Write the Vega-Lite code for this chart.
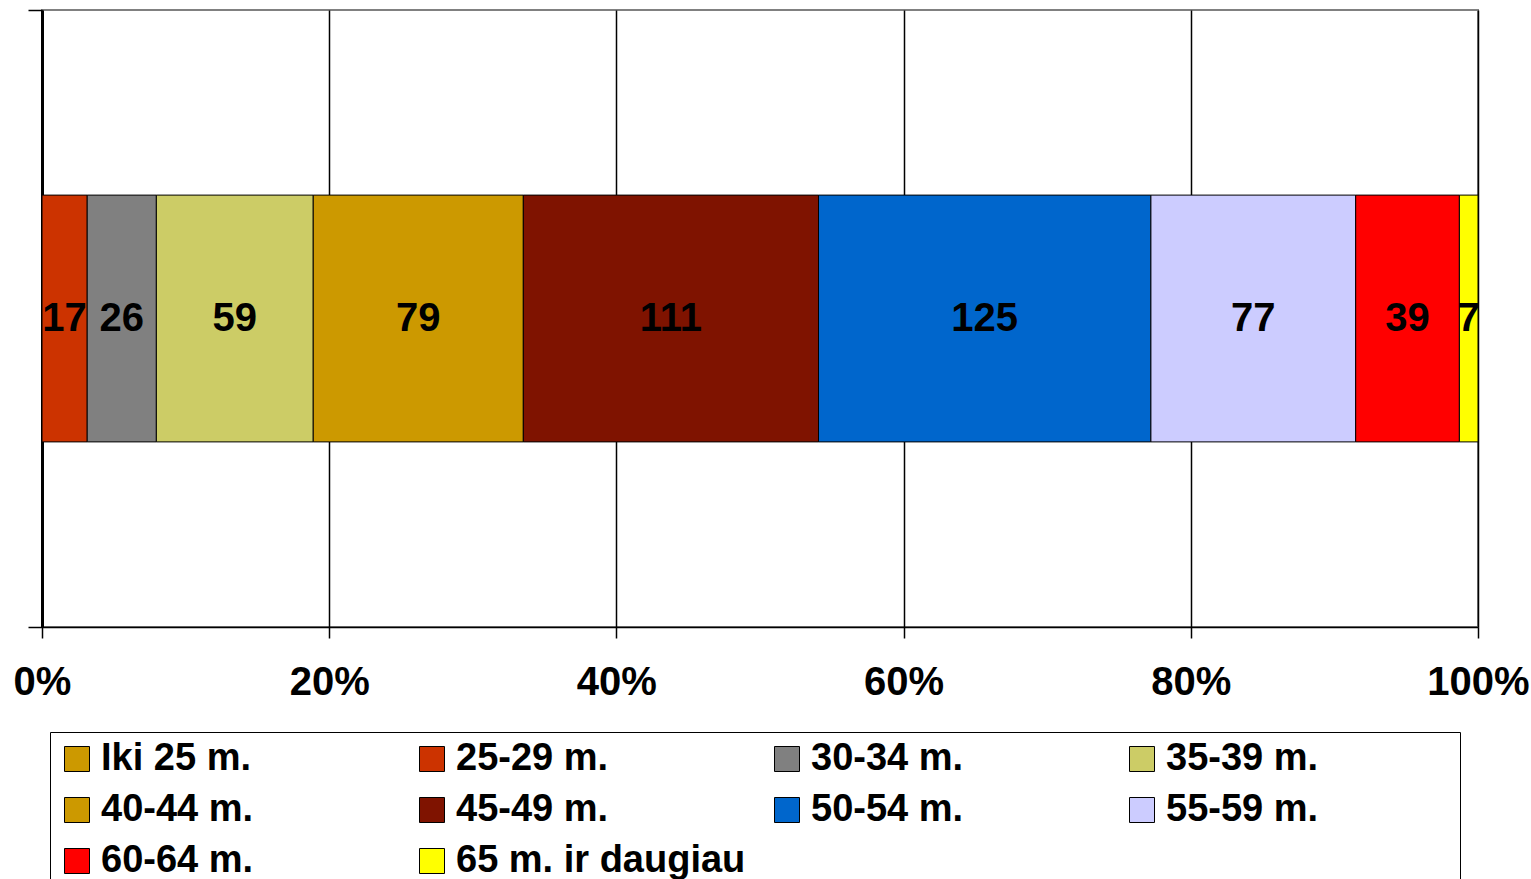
{
  "$schema": "https://vega.github.io/schema/vega-lite/v6.json",
  "width": 1436,
  "height": 617,
  "autosize": {"type": "none"},
  "padding": {"left": 42, "top": 10, "right": 53, "bottom": 252},
  "background": "white",
  "config": {
    "font": "Liberation Sans",
    "view": {"stroke": "#808080", "strokeWidth": 2}
  },
  "data": {
    "values": [
      {"group": "A", "category": "Iki 25 m.", "value": 0, "order": 0},
      {"group": "A", "category": "25-29 m.", "value": 17, "order": 1},
      {"group": "A", "category": "30-34 m.", "value": 26, "order": 2},
      {"group": "A", "category": "35-39 m.", "value": 59, "order": 3},
      {"group": "A", "category": "40-44 m.", "value": 79, "order": 4},
      {"group": "A", "category": "45-49 m.", "value": 111, "order": 5},
      {"group": "A", "category": "50-54 m.", "value": 125, "order": 6},
      {"group": "A", "category": "55-59 m.", "value": 77, "order": 7},
      {"group": "A", "category": "60-64 m.", "value": 39, "order": 8},
      {"group": "A", "category": "65 m. ir daugiau", "value": 7, "order": 9}
    ]
  },
  "transform": [
    {"stack": "value", "groupby": ["group"], "sort": [{"field": "order", "order": "ascending"}], "offset": "normalize", "as": ["x0", "x1"]},
    {"calculate": "(datum.x0 + datum.x1) / 2", "as": "xmid"}
  ],
  "encoding": {
    "y": {
      "field": "group",
      "type": "nominal",
      "scale": {"paddingInner": 0, "paddingOuter": 0},
      "axis": {
        "title": null,
        "labels": false,
        "domain": true,
        "domainColor": "black",
        "domainWidth": 3,
        "ticks": true,
        "tickBand": "extent",
        "tickColor": "black",
        "tickWidth": 1.5,
        "tickSize": 14,
        "grid": false
      }
    }
  },
  "layer": [
    {
      "mark": {"type": "bar", "stroke": "black", "strokeWidth": 1, "height": {"band": 0.4}},
      "encoding": {
        "x": {
          "field": "x0",
          "type": "quantitative",
          "scale": {"domain": [0, 1], "nice": false},
          "axis": {
            "title": null,
            "format": "%",
            "values": [0, 0.2, 0.4, 0.6, 0.8, 1],
            "domain": true,
            "domainColor": "black",
            "domainWidth": 1.5,
            "ticks": true,
            "tickColor": "black",
            "tickWidth": 1.5,
            "tickSize": 11,
            "grid": true,
            "gridColor": "black",
            "gridWidth": 1.5,
            "gridOpacity": 1,
            "labelFont": "Liberation Sans",
            "labelFontSize": 40,
            "labelFontWeight": "bold",
            "labelColor": "black",
            "labelPadding": 24,
            "labelFlush": false,
            "labelOverlap": false
          }
        },
        "x2": {"field": "x1"},
        "color": {
          "field": "category",
          "type": "nominal",
          "scale": {
            "domain": ["Iki 25 m.", "25-29 m.", "30-34 m.", "35-39 m.", "40-44 m.", "45-49 m.", "50-54 m.", "55-59 m.", "60-64 m.", "65 m. ir daugiau"],
            "range": ["#CC9900", "#CC3300", "#808080", "#CCCC66", "#CC9900", "#7F1300", "#0066CC", "#CCCCFF", "#FF0000", "#FFFF00"]
          },
          "legend": {
            "title": "\u200b",
            "titleOrient": "right",
            "titlePadding": 134,
            "titleFontSize": 1,
            "titleColor": "white",
            "orient": "none",
            "legendX": 8,
            "legendY": 722,
            "direction": "horizontal",
            "columns": 4,
            "gridAlign": "all",
            "columnPadding": 22,
            "rowPadding": 13,
            "padding": 8,
            "strokeColor": "black",
            "fillColor": "white",
            "symbolType": "square",
            "symbolSize": 625,
            "symbolStrokeColor": "black",
            "symbolStrokeWidth": 1,
            "symbolOpacity": 1,
            "labelFont": "Liberation Sans",
            "labelFontSize": 38,
            "labelFontWeight": "bold",
            "labelColor": "black",
            "labelOffset": 5,
            "labelLimit": 600
          }
        },
        "order": {"field": "order", "type": "quantitative"}
      }
    },
    {
      "transform": [{"filter": "datum.value > 0"}],
      "mark": {"type": "text", "font": "Liberation Sans", "fontSize": 40, "fontWeight": "bold", "color": "black", "baseline": "middle", "align": "center"},
      "encoding": {
        "x": {"field": "xmid", "type": "quantitative"},
        "text": {"field": "value", "type": "quantitative"}
      }
    }
  ]
}
